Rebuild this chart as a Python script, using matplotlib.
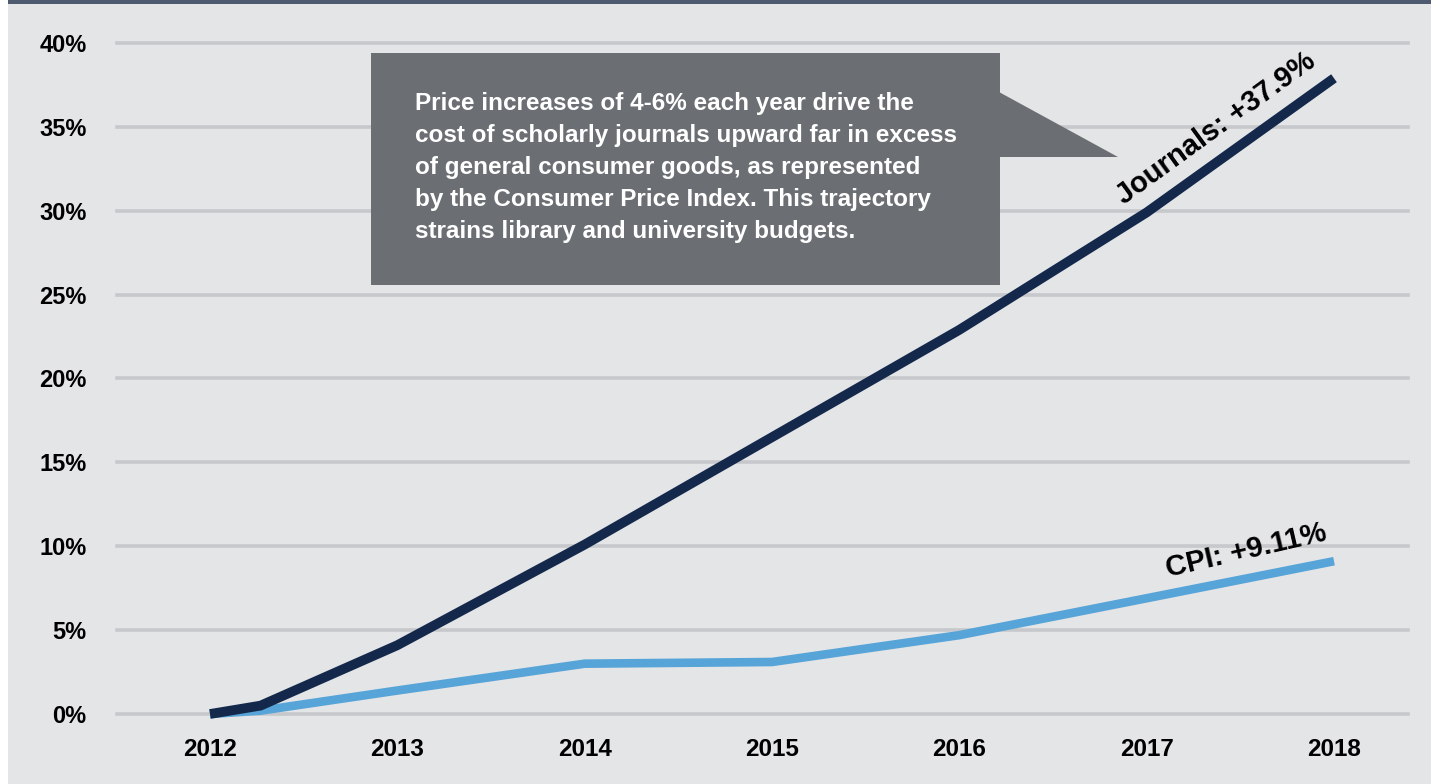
import matplotlib
matplotlib.use("Agg")
import matplotlib.pyplot as plt
from matplotlib.patches import Rectangle, Polygon

plt.rcParams['font.family'] = ['Liberation Sans', 'DejaVu Sans']

# ---- data ----
years = ["2012", "2013", "2014", "2015", "2016", "2017", "2018"]
x_journals = [0, 0.27, 1, 2, 3, 4, 5, 6]
journals = [0, 0.5, 4.1, 10.1, 16.5, 22.9, 29.9, 37.9]
x_cpi = [0, 0.27, 1, 2, 3, 4, 5, 6]
cpi = [0, 0.2, 1.4, 3.0, 3.1, 4.7, 6.9, 9.11]
yticks = [0, 5, 10, 15, 20, 25, 30, 35, 40]
callout = ("Price increases of 4-6% each year drive the\n"
           "cost of scholarly journals upward far in excess\n"
           "of general consumer goods, as represented\n"
           "by the Consumer Price Index. This trajectory\n"
           "strains library and university budgets.")
journals_label = "Journals: +37.9%"
cpi_label = "CPI: +9.11%"

W, H = 1431, 784
fig = plt.figure(figsize=(W / 100, H / 100), dpi=100)
fig.patch.set_facecolor("white")

def fx(px):
    return px / W
def fy(py):
    return 1 - py / H

# background panel and top bar
fig.patches.append(Rectangle((fx(8), 0), 1 - fx(8), 1, transform=fig.transFigure,
                             facecolor="#e4e5e7", edgecolor="none", zorder=-10))
fig.patches.append(Rectangle((fx(8), fy(4)), 1 - fx(8), 4 / H, transform=fig.transFigure,
                             facecolor="#4e5a70", edgecolor="none", zorder=-9))

left, right = 117, 1408
top, bottom = 43, 714
ax = fig.add_axes([fx(left), fy(bottom), (right - left) / W, (bottom - top) / H])
ax.set_facecolor("none")
x0, x6 = 210, 1334
unit = (x6 - x0) / 6
ax.set_xlim(-(x0 - left) / unit, 6 + (right - x6) / unit)
ax.set_ylim(0, 40)
for s in ax.spines.values():
    s.set_visible(False)

for yv in yticks:
    ax.axhline(yv, color="#c6c8cb", lw=2.6, zorder=1, clip_on=False)

ax.plot(x_cpi, cpi, color="#57a4d8", lw=6.2, solid_joinstyle="miter",
        solid_capstyle="butt", zorder=3, clip_on=False)
ax.plot(x_journals, journals, color="#13284b", lw=7.0, solid_joinstyle="miter",
        solid_capstyle="butt", zorder=4, clip_on=False)

ax.set_yticks(yticks)
ax.set_yticklabels([f"{v}%" for v in yticks], fontsize=17, fontweight="bold")
ax.set_xticks(range(len(years)))
ax.set_xticklabels(years, fontsize=17.5, fontweight="bold")
ax.tick_params(axis="y", length=0, pad=22)
ax.tick_params(axis="x", length=0, pad=17)

# callout box with pointer
box_l, box_r, box_t, box_b = 371, 1000, 53, 285
fig.patches.append(Rectangle((fx(box_l), fy(box_b)), fx(box_r) - fx(box_l), fy(box_t) - fy(box_b),
                             transform=fig.transFigure, facecolor="#6b6e72", edgecolor="none", zorder=5))
fig.patches.append(Polygon([(fx(999), fy(92)), (fx(1118), fy(157)), (fx(999), fy(157))],
                           closed=True, transform=fig.transFigure,
                           facecolor="#6b6e72", edgecolor="none", zorder=5))
fig.text(fx(415), fy(92), callout, color="white", fontsize=17.5, fontweight="bold",
         ha="left", va="top", linespacing=1.5, zorder=6)

# end labels
fig.text(fx(1216), fy(128), journals_label, rotation=36, rotation_mode="anchor",
         ha="center", va="center", fontsize=21, fontweight="bold", color="black", zorder=6)
fig.text(fx(1246), fy(551), cpi_label, rotation=13, rotation_mode="anchor",
         ha="center", va="center", fontsize=21, fontweight="bold", color="black", zorder=6)

fig.savefig("out.png", dpi=100)
